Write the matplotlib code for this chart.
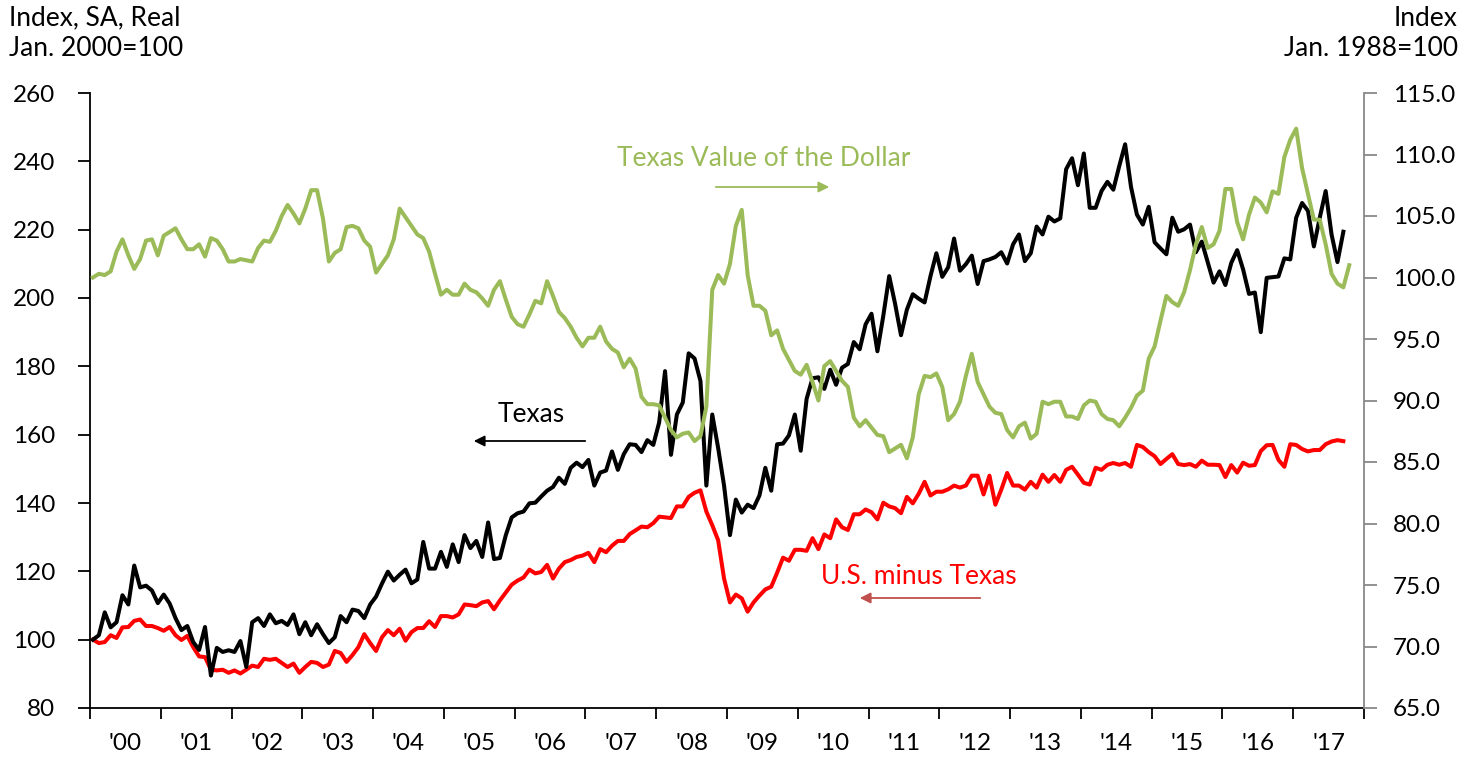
import matplotlib
matplotlib.use("Agg")
import matplotlib.pyplot as plt
import numpy as np

plt.rcParams['font.family'] = ['Lato', 'DejaVu Sans']

# Monthly data, Jan 2000 onward
texas = [
    100.0, 101.3, 108.0, 103.6, 105.1, 113.0, 110.3, 121.7, 115.3, 115.8, 114.4, 110.7,
    113.2, 110.6, 106.3, 102.8, 104.0, 99.3, 97.0, 103.7, 89.5, 97.6, 96.4, 96.9,
    96.4, 99.6, 92.0, 105.1, 106.3, 104.0, 107.4, 104.8, 105.5, 104.3, 107.4, 101.6,
    105.1, 101.3, 104.5, 101.6, 99.0, 100.7, 106.9, 105.1, 108.8, 108.4, 106.3, 110.3,
    112.6, 116.4, 119.9, 117.3, 119.0, 120.5, 116.5, 117.6, 128.6, 120.8, 120.8, 125.7,
    121.3, 127.9, 122.7, 130.6, 126.8, 128.9, 124.2, 134.3, 123.6, 123.9, 130.6, 135.8,
    137.0, 137.5, 139.9, 140.1, 141.9, 143.6, 144.7, 147.4, 145.6, 150.3, 151.8, 150.5,
    152.6, 145.1, 148.9, 149.5, 155.1, 149.7, 154.3, 157.2, 157.0, 154.9, 158.4, 157.0,
    163.6, 178.6, 154.1, 165.9, 169.4, 183.8, 182.3, 175.7, 145.1, 165.9, 156.1, 145.1,
    130.6, 141.0, 137.2, 139.5, 138.5, 142.2, 150.3, 143.6, 157.2, 157.4, 159.8, 165.9,
    155.3, 170.5, 176.5, 176.8, 173.4, 179.0, 174.6, 179.6, 180.7, 187.1, 185.0, 192.3,
    195.4, 184.4, 194.8, 206.4, 198.3, 189.1, 196.6, 201.1, 199.8, 198.7, 206.4, 213.1,
    206.2, 209.0, 217.4, 208.0, 209.9, 212.4, 204.1, 210.8, 211.3, 212.0, 213.4, 210.1,
    215.7, 218.6, 210.8, 213.1, 220.9, 218.6, 223.8, 222.4, 223.3, 237.7, 240.9, 233.0,
    242.3, 226.4, 226.4, 231.3, 234.0, 231.7, 238.6, 245.0, 232.5, 224.4, 221.5, 226.7,
    216.3, 214.5, 212.8, 223.5, 219.4, 220.1, 221.5, 213.4, 216.5, 210.5, 204.5, 207.8,
    203.8, 210.3, 214.0, 208.4, 201.2, 201.6, 190.0, 205.9, 206.1, 206.3, 211.6, 211.3,
    223.5, 227.8, 225.5, 215.1, 223.5, 231.3, 218.6, 210.5, 219.4,
]

us_minus_texas = [
    100.0, 99.0, 99.3, 101.3, 100.5, 103.6, 103.7, 105.5, 105.9, 104.0, 104.0, 103.4,
    102.6, 103.7, 101.3, 99.9, 101.1, 97.8, 95.1, 94.9, 91.2, 91.0, 91.2, 90.3,
    91.0, 90.1, 91.2, 92.4, 92.0, 94.4, 94.1, 94.4, 93.2, 92.0, 93.0, 90.3,
    92.0, 93.5, 93.2, 92.0, 92.7, 96.7, 96.1, 93.5, 95.5, 97.8, 101.6, 99.0,
    96.7, 100.7, 102.8, 101.3, 103.2, 99.7, 102.2, 103.4, 103.4, 105.4, 103.7, 106.9,
    106.9, 106.5, 107.4, 110.3, 110.1, 109.8, 110.9, 111.3, 108.9, 111.5, 113.8, 116.1,
    117.3, 118.2, 120.5, 119.4, 119.8, 121.9, 117.9, 120.8, 122.7, 123.3, 124.2, 124.6,
    125.4, 122.7, 126.5, 125.6, 127.5, 128.9, 128.9, 130.9, 132.0, 133.1, 132.9, 134.1,
    136.0, 135.8, 135.6, 139.0, 139.0, 141.8, 143.0, 143.7, 137.5, 133.5, 129.1, 117.9,
    110.9, 113.2, 112.1, 108.2, 110.9, 112.9, 114.7, 115.5, 119.6, 124.0, 123.1, 126.3,
    126.3, 126.0, 129.7, 126.5, 130.8, 129.7, 135.2, 132.9, 132.1, 136.7, 136.7, 138.1,
    137.3, 135.2, 140.1, 139.0, 138.5, 137.0, 141.8, 139.9, 142.7, 146.2, 142.2, 143.3,
    143.3, 144.0, 145.1, 144.5, 145.1, 148.0, 148.0, 142.5, 148.0, 139.5, 143.9, 148.8,
    145.1, 145.1, 143.9, 146.2, 144.5, 148.3, 146.2, 148.2, 146.2, 149.7, 150.6, 148.3,
    145.9, 145.4, 150.3, 149.7, 151.2, 151.7, 151.2, 151.7, 150.6, 157.0, 156.4, 154.9,
    153.7, 151.4, 152.9, 154.3, 151.4, 151.1, 151.4, 150.6, 152.4, 151.2, 151.2, 151.1,
    147.6, 151.1, 148.9, 151.8, 150.9, 151.1, 155.2, 156.9, 157.0, 152.6, 150.6, 157.2,
    157.0, 155.8, 155.1, 155.5, 155.5, 157.2, 158.0, 158.4, 158.1,
]

tx_dollar = [
    100.0, 100.3, 100.2, 100.5, 102.1, 103.1, 101.8, 100.7, 101.5, 103.0, 103.1, 101.8,
    103.4, 103.7, 104.0, 103.1, 102.3, 102.3, 102.7, 101.7, 103.2, 103.0, 102.3, 101.3,
    101.3, 101.5, 101.4, 101.3, 102.4, 103.0, 102.9, 103.8, 105.0, 105.9, 105.2, 104.4,
    105.6, 107.1, 107.1, 104.8, 101.3, 102.0, 102.3, 104.1, 104.2, 104.0, 103.0, 102.5,
    100.4, 101.1, 101.8, 103.1, 105.6, 104.9, 104.2, 103.5, 103.2, 102.1, 100.3, 98.6,
    99.0, 98.6, 98.6, 99.5, 99.0, 98.8, 98.3, 97.7, 99.0, 99.7, 98.2, 96.8,
    96.2, 96.0, 97.0, 98.1, 97.9, 99.7, 98.5, 97.2, 96.7, 96.0, 95.1, 94.4,
    95.1, 95.1, 96.0, 94.8, 94.2, 93.9, 92.7, 93.4, 92.6, 90.3, 89.7, 89.7,
    89.6, 88.6, 87.6, 87.0, 87.3, 87.4, 86.7, 87.1, 89.5, 99.0, 100.2, 99.5,
    101.1, 104.2, 105.5, 100.2, 97.7, 97.7, 97.3, 95.3, 95.7, 94.2, 93.3, 92.4,
    92.1, 92.9, 91.5, 90.0, 92.8, 93.2, 92.4, 91.6, 91.1, 88.6, 87.9, 88.4,
    87.8, 87.2, 87.1, 85.8, 86.1, 86.4, 85.3, 87.0, 90.5, 92.0, 91.9, 92.2,
    91.1, 88.4, 88.9, 89.9, 92.0, 93.8, 91.5, 90.5, 89.5, 89.0, 88.9, 87.6,
    87.0, 87.9, 88.2, 86.9, 87.3, 89.9, 89.7, 89.9, 89.9, 88.7, 88.7, 88.5,
    89.6, 90.0, 89.9, 88.9, 88.5, 88.4, 87.9, 88.6, 89.4, 90.4, 90.8, 93.4,
    94.4, 96.5, 98.5, 98.0, 97.7, 98.8, 100.6, 102.7, 104.1, 102.4, 102.7, 103.8,
    107.2, 107.2, 104.5, 103.1, 105.1, 106.5, 106.1, 105.3, 107.0, 106.8, 109.8, 111.2,
    112.1, 108.9, 106.8, 104.7, 104.7, 102.7, 100.3, 99.5, 99.2, 101.0,
]

years = list(range(2000, 2018))
year_labels = ["'%02d" % (y % 100) for y in years]

GREEN = '#9BBB59'
RED = '#FF0000'
W, H = 1466, 758


def fp(x, y):
    # pixel position -> figure fraction
    return (x / W, 1 - y / H)


fig = plt.figure(figsize=(W / 100, H / 100), dpi=100)
ax = fig.add_axes([90 / W, 50 / H, 1274 / W, 615 / H])
ax2 = ax.twinx()

x_tx = 2000 + (np.arange(len(texas)) + 0.5) / 12
x_us = 2000 + (np.arange(len(us_minus_texas)) + 0.5) / 12
x_dl = 2000 + (np.arange(len(tx_dollar)) + 0.5) / 12

ax.plot(x_us, us_minus_texas, color=RED, lw=2.9)
ax.plot(x_tx, texas, color='black', lw=2.9)
ax2.plot(x_dl, tx_dollar, color=GREEN, lw=2.9)

ax.set_xlim(2000, 2018)
ax.set_ylim(80, 260)
ax.set_yticks(range(80, 261, 20))
ax2.set_ylim(65, 115)
ax2.set_yticks(np.arange(65, 115.1, 5))
ax2.set_yticklabels(['%.1f' % v for v in np.arange(65, 115.1, 5)])

ax.set_xticks(range(2000, 2019))
ax.set_xticklabels([])
ax.set_xticks([y + 0.5 for y in years], minor=True)
ax.set_xticklabels(year_labels, minor=True)

ax.tick_params(axis='x', which='major', direction='out', length=8, width=1.3)
ax.tick_params(axis='x', which='minor', length=0, pad=18, labelsize=17.5)
ax.tick_params(axis='y', direction='out', length=9, width=1.3, pad=16, labelsize=17.5)
ax2.tick_params(axis='y', direction='out', length=9, width=1.3, color='#898989',
                pad=12, labelsize=17.5)

for s in ['top', 'right']:
    ax.spines[s].set_visible(False)
for s in ['top', 'left', 'bottom']:
    ax2.spines[s].set_visible(False)
ax.spines['left'].set_linewidth(1.3)
ax.spines['bottom'].set_linewidth(1.3)
ax2.spines['right'].set_color('#898989')
ax2.spines['right'].set_linewidth(1.3)

# axis headers
fig.text(*fp(9, 18), 'Index, SA, Real', fontsize=19, va='center', ha='left')
fig.text(*fp(9, 48), 'Jan. 2000=100', fontsize=19, va='center', ha='left')
fig.text(*fp(1458, 18), 'Index', fontsize=19, va='center', ha='right')
fig.text(*fp(1458, 48), 'Jan. 1988=100', fontsize=19, va='center', ha='right')

# series labels with arrows
fig.text(*fp(764, 158), 'Texas Value of the Dollar', fontsize=19, color=GREEN,
         ha='center', va='center')
ax.annotate('', xy=fp(832, 187), xytext=fp(713, 187), xycoords='figure fraction',
            textcoords='figure fraction',
            arrowprops=dict(arrowstyle='-|>', color=GREEN, lw=1.3, mutation_scale=16))

fig.text(*fp(531, 414), 'Texas', fontsize=19, color='black', ha='center', va='center')
ax.annotate('', xy=fp(471, 441), xytext=fp(588, 441), xycoords='figure fraction',
            textcoords='figure fraction',
            arrowprops=dict(arrowstyle='-|>', color='black', lw=1.3, mutation_scale=16))

fig.text(*fp(919, 576), 'U.S. minus Texas', fontsize=19, color=RED, ha='center', va='center')
ax.annotate('', xy=fp(857, 598), xytext=fp(983, 598), xycoords='figure fraction',
            textcoords='figure fraction',
            arrowprops=dict(arrowstyle='-|>', color='#C0504D', lw=1.3, mutation_scale=16))

fig.savefig('out.png', dpi=100)
